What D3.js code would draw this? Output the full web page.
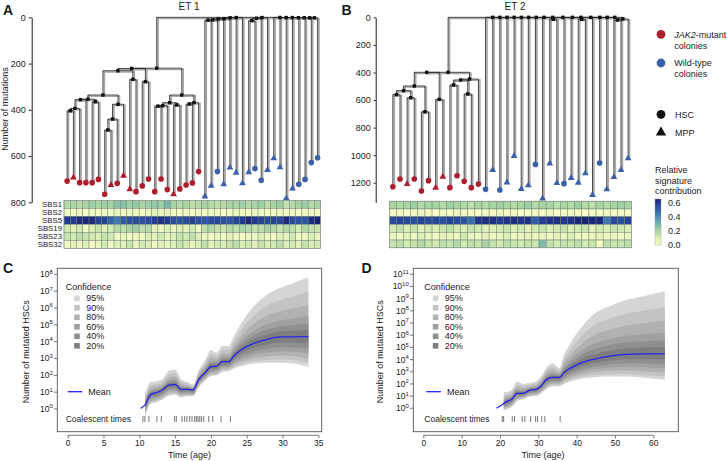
<!DOCTYPE html>
<html><head><meta charset="utf-8">
<script src="https://cdn.jsdelivr.net/npm/d3@7"></script>
<style>
body{margin:0;background:#fff}
svg{display:block}
text{font-family:"Liberation Sans",Arial,Helvetica,sans-serif;fill:#1a1a1a}
</style>
</head><body>
<svg id="chart" width="727" height="461"></svg>
<script>
// ===================== DATA =====================
// --- ET1 phylogeny: leaves left to right (J = JAK2-mutant, W = wild-type; H = HSC, M = MPP)
const et1Group = "JJJJJJJJJJJJJJJJJJJJJJWWWWWWWWWWWWWWWWWWW".split("");
const et1Type  = "HMHHHHHMHMMHHHHHHMHHHHMMHMMMMMHHMMMMMHHHH".split("");
const et1Depth = [708,693,715,715,715,701,765,725,718,685,744,754,729,699,754,699,745,765,742,725,716,667,
                  775,729,667,722,650,672,718,670,654,705,660,610,649,783,740,722,701,628,607];
// topology: [node depth (mutations), ...children]; a number = leaf index
const et1Tree = [0,
  [220,
    [221,
      [231,
        [336,
          [354, [356, [394, [404, 0, 1], 2], 3], [365, 4, 5]],
          [376, [440, [487, 6, 7], 8], 9]],
        [268, 10, 11]],
      [278, 12, 13]],
    [336,
      [369, [382, [384, 14, 15], 16], [379, 17, 18]],
      [369, [375, 19, 20], 21]]],
  [1, [2, [6, [7, [11, [12, 22, 23], 24], 25], 26], 27], 28],
  [1, [4, [14, 29, 30], 31], 32],
  [0.5, 33, [1, 34, [1, 35, [1.5, 36, [1.5, 37, [2, 38, [2, 39, 40]]]]]]]
];

// --- ET2 phylogeny
const et2Group = "JJJJJJJJJJJJJWWWWWWWWWWWWWWWWWWWWW".split("");
const et2Type  = "HHMHHHMMHHHHHHMHMMMMHMMMHMMMMHMMMM".split("");
const et2Depth = [1229,1173,1210,1173,1260,1185,1236,1156,1236,1149,1190,1236,1210,
                  1248,1108,1253,1198,1006,1246,1219,1067,1314,1060,1203,1207,1166,1200,1132,1289,1057,1248,1159,1108,1023];
const et2Tree = [0,
  [399,
    [399,
      [498, [532, [561, 0, 1], [583, 2, 3]], [685, 4, 5]],
      [595, 6, 7]],
    [448, [455, [491, 8, 9], [556, 10, 11]], 12]],
  [0, 13, [0, 14, [0, 15, [0, 16, [0, 17, [0, 18, [0, 19, [0, 20, [0, 21,
    [0, [14, 22, 23], [0, 24, [0, 25, [0, [14, 26, 27], [0, 28, [0, 29, [0, 30,
      [12, [19, 31, 32], 33]]]]]]]]]]]]]]]]]
];

// --- relative signature contributions
const sigNames = ["SBS1","SBS2","SBS5","SBS19","SBS23","SBS32"];
const et1SBS1  = [0.18,0.2,0.18,0.2,0.22,0.2,0.22,0.2,0.26,0.27,0.22,0.24,0.2,0.22,0.24,0.22,0.3,0.2,0.18,0.2,0.16,0.18,0.2,0.18,0.16,0.18,0.2,0.2,0.22,0.18,0.2,0.22,0.17,0.2,0.22,0.15,0.18,0.2,0.22,0.18,0.2];
const et1SBS2  = [0.04,0.03,0.05,0.02,0.04,0.03,0.05,0.04,0.06,0.03,0.05,0.04,0.03,0.06,0.08,0.07,0.08,0.04,0.03,0.05,0.02,0.04,0.03,0.05,0.04,0.02,0.03,0.05,0.04,0.03,0.06,0.04,0.02,0.03,0.05,0.04,0.03,0.02,0.04,0.05,0.03];
const et1SBS5  = [0.6,0.6,0.64,0.65,0.64,0.58,0.58,0.5,0.45,0.52,0.55,0.56,0.55,0.57,0.6,0.62,0.6,0.55,0.54,0.56,0.58,0.55,0.54,0.56,0.57,0.55,0.53,0.58,0.6,0.65,0.6,0.58,0.56,0.58,0.57,0.65,0.56,0.55,0.54,0.64,0.66];
const et1SBS19 = [0.12,0.08,0.12,0.04,0.1,0.14,0.08,0.12,0.18,0.16,0.2,0.22,0.16,0.18,0.08,0.05,0.1,0.06,0.1,0.08,0.12,0.04,0.16,0.18,0.15,0.14,0.18,0.16,0.2,0.18,0.15,0.16,0.2,0.18,0.14,0.18,0.16,0.12,0.18,0.15,0.14];
const et1SBS23 = [0.14,0.12,0.16,0.14,0.12,0.1,0.14,0.12,0.04,0.06,0.03,0.05,0.04,0.1,0.08,0.12,0.06,0.1,0.14,0.12,0.16,0.1,0.05,0.03,0.06,0.04,0.08,0.05,0.03,0.06,0.04,0.1,0.05,0.03,0.08,0.06,0.12,0.05,0.04,0.1,0.06];
const et1SBS32 = [0.04,0.08,0.05,0.1,0.03,0.06,0.12,0.05,0.1,0.08,0.14,0.06,0.12,0.1,0.04,0.08,0.06,0.1,0.14,0.12,0.06,0.1,0.15,0.08,0.12,0.1,0.14,0.16,0.1,0.12,0.08,0.14,0.1,0.12,0.16,0.1,0.12,0.08,0.14,0.1,0.12];
const et2SBS1  = [0.2,0.18,0.2,0.22,0.18,0.2,0.2,0.18,0.22,0.2,0.18,0.16,0.2,0.18,0.2,0.22,0.2,0.18,0.2,0.22,0.18,0.2,0.2,0.16,0.2,0.18,0.22,0.18,0.16,0.2,0.18,0.2,0.22,0.2];
const et2SBS2  = [0.03,0.04,0.02,0.03,0.05,0.03,0.02,0.04,0.03,0.05,0.04,0.03,0.02,0.04,0.03,0.05,0.03,0.04,0.02,0.03,0.04,0.03,0.05,0.02,0.03,0.04,0.03,0.02,0.04,0.03,0.05,0.03,0.04,0.03];
const et2SBS5  = [0.56,0.58,0.57,0.55,0.58,0.56,0.57,0.55,0.58,0.56,0.54,0.48,0.62,0.63,0.62,0.6,0.62,0.63,0.61,0.62,0.52,0.6,0.62,0.63,0.61,0.62,0.65,0.66,0.65,0.64,0.45,0.56,0.55,0.58];
const et2SBS19 = [0.12,0.15,0.1,0.14,0.08,0.12,0.1,0.14,0.16,0.12,0.1,0.14,0.12,0.08,0.1,0.12,0.14,0.1,0.12,0.08,0.12,0.14,0.1,0.12,0.15,0.1,0.12,0.14,0.08,0.12,0.1,0.14,0.12,0.1];
const et2SBS23 = [0.06,0.04,0.08,0.05,0.1,0.06,0.04,0.08,0.06,0.05,0.12,0.06,0.04,0.08,0.05,0.06,0.1,0.04,0.06,0.08,0.05,0.06,0.04,0.08,0.06,0.1,0.05,0.04,0.06,0.08,0.05,0.06,0.04,0.06];
const et2SBS32 = [0.14,0.16,0.12,0.15,0.18,0.14,0.12,0.16,0.14,0.18,0.12,0.16,0.14,0.2,0.15,0.12,0.16,0.14,0.12,0.15,0.14,0.28,0.16,0.12,0.15,0.14,0.16,0.12,0.14,0.03,0.16,0.14,0.15,0.16];
const sigTicks = [0.0, 0.2, 0.4, 0.6];
const et1YTicks = [0,200,400,600,800];
const et2YTicks = [0,200,400,600,800,1000,1200];

// --- clone size trajectories (log10 of number of mutated HSCs)
const cTime  = [10.2,10.8,11.6,12.4,13.2,14.2,15.0,15.8,16.7,17.5,18.3,19.2,20.0,20.8,21.6,22.5,23.2,24.4,26.0,27.9,29.7,31.6,33.6];
const cMean  = [0.04,0.24,0.87,0.97,1.13,1.43,1.46,1.17,1.17,1.13,1.76,2.16,2.51,2.55,2.81,2.81,3.15,3.56,3.9,4.14,4.28,4.29,4.3];
const cLo95  = [null,-0.45,0.3,0.4,0.55,0.8,0.85,0.7,0.75,0.75,1.3,1.7,1.95,2.0,2.2,2.25,2.4,2.55,2.7,2.75,2.75,2.7,2.5];
const cHi95  = [null,0.9,1.6,1.65,1.75,2.3,2.35,1.8,1.6,1.45,2.3,2.9,3.5,3.35,3.75,3.75,4.3,5.2,6.1,6.8,7.2,7.5,7.85];
const cCoal  = [10.5,10.78,11.34,12.46,13.07,14.93,15.17,15.96,16.34,16.66,17.04,17.36,17.73,17.97,18.2,18.44,18.67,19.0,19.7,20.26,21.42,22.73];
const dTime  = [19.1,21.0,21.75,23.05,24.5,26.1,27.8,29.4,30.7,32.2,33.75,35.5,36.7,38.3,40.9,44.4,48.7,53.1,57.4,63.0];
const dMean  = [0.0,0.4,0.55,0.74,1.23,1.23,1.5,1.56,1.83,2.38,2.54,2.54,2.93,3.28,3.69,4.02,4.29,4.43,4.46,4.46];
const dLo95  = [null,-0.2,-0.1,0.1,0.6,0.75,0.95,1.0,1.2,1.6,1.8,1.8,2.0,2.2,2.4,2.55,2.6,2.6,2.5,2.35];
const dHi95  = [null,1.3,1.35,1.5,2.2,2.0,2.1,2.2,2.6,3.4,3.7,3.3,4.4,5.3,6.5,7.7,8.4,8.9,9.2,9.6];
const dCoal  = [20.6,20.96,23.2,23.8,25.8,26.5,28.0,29.3,29.8,30.9,31.7,35.7];
const confLevels    = ["95%","90%","80%","60%","40%","20%"];
const confUpperFrac = [1, 0.75, 0.53, 0.34, 0.22, 0.11];   // share of upper 95% half-width
const confLowerFrac = [1, 0.88, 0.72, 0.56, 0.40, 0.22];   // share of lower 95% half-width
const cXTicks = [0,5,10,15,20,25,30,35];
const dXTicks = [0,10,20,30,40,50,60];
const cYTicks = [0,1,2,3,4,5,6,7,8];
const dYTicks = [0,1,2,3,4,5,6,7,8,9,10,11];

// ===================== STYLE =====================
const RED = "#ad1d2d", BLUE = "#3a60a8";
const confFill = ["#d5d5d5","#c3c3c3","#b1b1b1","#a0a0a0","#8f8f8f","#7e7e7e"];
const sigColor = d3.scaleLinear()
  .domain([0,0.1,0.2,0.3,0.4,0.5,0.6,0.66])
  .range(["#ffffcc","#dcefb6","#a9d5a5","#78b7ab","#4c8cb8","#3463aa","#243b93","#1b2576"])
  .clamp(true);

const svg = d3.select("#chart");
const defs = svg.append("defs");

function txt(g, x, y, s, size, anchor, weight){
  return g.append("text").attr("x",x).attr("y",y).attr("font-size",size)
    .attr("text-anchor",anchor||"start").attr("font-weight",weight||"normal").text(s);
}

// ===================== TREES =====================
function buildTree(spec){
  return typeof spec === "number" ? {leaf: spec} : {depth: spec[0], children: spec.slice(1).map(buildTree)};
}
function drawTree(spec, depths, groups, types, xBand, y){
  const g = svg.append("g");
  const root = buildTree(spec);
  const half = xBand.bandwidth()/2;
  const internals = [];
  (function lay(n){
    if (n.leaf !== undefined){ n.x = xBand(n.leaf) + half; n.y = y(depths[n.leaf]); return; }
    n.children.forEach(lay);
    n.x = (n.children[0].x + n.children[n.children.length-1].x)/2;
    n.y = y(n.depth);
    internals.push(n);
  })(root);
  const hs = [], vs = [], leaves = [];
  internals.forEach(n=>{
    const f = n.children[0], l = n.children[n.children.length-1];
    hs.push({x1:f.x, x2:l.x, y:n.y});
    n.children.forEach(c=>{ vs.push({x:c.x, y1:n.y, y2:c.y}); if (c.leaf!==undefined) leaves.push(c); });
  });
  g.selectAll(".gv").data(vs).join("line").attr("x1",d=>d.x+1.4).attr("x2",d=>d.x+1.4)
    .attr("y1",d=>d.y1).attr("y2",d=>d.y2).attr("stroke","#a8a8a8").attr("stroke-width",1.7);
  g.selectAll(".gh").data(hs).join("line").attr("x1",d=>d.x1).attr("x2",d=>d.x2+1.4)
    .attr("y1",d=>d.y+1.2).attr("y2",d=>d.y+1.2).attr("stroke","#a8a8a8").attr("stroke-width",1.5);
  g.selectAll(".bv").data(vs).join("line").attr("x1",d=>d.x).attr("x2",d=>d.x)
    .attr("y1",d=>d.y1).attr("y2",d=>d.y2).attr("stroke","#1a1a1a").attr("stroke-width",0.8);
  g.selectAll(".bh").data(hs).join("line").attr("x1",d=>d.x1).attr("x2",d=>d.x2)
    .attr("y1",d=>d.y).attr("y2",d=>d.y).attr("stroke","#1a1a1a").attr("stroke-width",0.8);
  g.selectAll(".nd").data(internals.filter(n=>n!==root)).join("rect")
    .attr("x",d=>d.x-1.7).attr("y",d=>d.y-1.7).attr("width",3.4).attr("height",3.4).attr("fill","#111");
  g.selectAll(".lf").data(leaves).join("path")
    .attr("transform",d=>`translate(${d.x},${d.y})`)
    .attr("d",d=> types[d.leaf]==="H" ? d3.symbol(d3.symbolCircle, 25)() : d3.symbol(d3.symbolTriangle, 20)())
    .attr("fill",d=> groups[d.leaf]==="J" ? RED : BLUE);
}

function drawHeat(rows, xBand, top, bottom, withLabels){
  const g = svg.append("g");
  const yb = d3.scaleBand().domain(sigNames).range([top,bottom]);
  rows.forEach((vals,r)=>{
    g.selectAll(null).data(vals).join("rect")
      .attr("x",(v,i)=>xBand(i)).attr("y",yb(sigNames[r]))
      .attr("width",xBand.bandwidth()).attr("height",yb.bandwidth())
      .attr("fill",v=>sigColor(v)).attr("stroke","#6d7f6f").attr("stroke-width",0.45);
    if (withLabels) txt(g, xBand.range()[0]-2, yb(sigNames[r])+yb.bandwidth()/2+2.8, sigNames[r], 7.8, "end");
  });
  g.append("rect").attr("x",xBand.range()[0]).attr("y",top)
    .attr("width",xBand.range()[1]-xBand.range()[0]).attr("height",bottom-top)
    .attr("fill","none").attr("stroke","#8a9a8a").attr("stroke-width",0.6);
}

function styleAxis(a){
  a.selectAll("text").attr("font-size",9).attr("font-family",null).attr("fill","#1a1a1a");
  a.selectAll("path,line").attr("stroke","#1a1a1a").attr("stroke-width",1);
}

// Panel A
const xA = d3.scaleBand().domain(d3.range(et1Depth.length)).range([64,320.7]);
const yA = d3.scaleLinear().domain([0,800]).range([17.33,202.33]);
drawTree(et1Tree, et1Depth, et1Group, et1Type, xA, yA);
svg.append("g").attr("transform","translate(31.7,0)")
  .call(d3.axisLeft(yA).tickValues(et1YTicks).tickFormat(d3.format("d")).tickSize(3).tickPadding(3).tickSizeOuter(0))
  .call(styleAxis);
svg.append("text").attr("transform","translate(8,109) rotate(-90)").attr("text-anchor","middle")
  .attr("font-size",9).text("Number of mutations");
txt(svg, 189, 9.5, "ET 1", 10, "middle");
drawHeat([et1SBS1,et1SBS2,et1SBS5,et1SBS19,et1SBS23,et1SBS32], xA, 200.5, 248.3, true);

// Panel B
const xB = d3.scaleBand().domain(d3.range(et2Depth.length)).range([389.3,631.7]);
const yB = d3.scaleLinear().domain([0,1342]).range([17.33,202.3]);
drawTree(et2Tree, et2Depth, et2Group, et2Type, xB, yB);
svg.append("g").attr("transform","translate(375.7,0)")
  .call(d3.axisLeft(yB).tickValues(et2YTicks).tickFormat(d3.format("d")).tickSize(2).tickPadding(3).tickSizeOuter(0))
  .call(styleAxis);
txt(svg, 515, 9.5, "ET 2", 10, "middle");
drawHeat([et2SBS1,et2SBS2,et2SBS5,et2SBS19,et2SBS23,et2SBS32], xB, 201.2, 247.8, false);

// Legend (right)
const lg = svg.append("g");
lg.append("circle").attr("cx",661).attr("cy",34.3).attr("r",4.4).attr("fill",RED);
const t1 = txt(lg, 674.3, 37.5, "", 9);
t1.append("tspan").attr("font-style","italic").text("JAK2");
t1.append("tspan").text("-mutant");
txt(lg, 674.3, 48.8, "colonies", 9);
lg.append("circle").attr("cx",661).attr("cy",63).attr("r",4.4).attr("fill",BLUE);
txt(lg, 674.3, 66, "Wild-type", 9);
txt(lg, 674.3, 76.6, "colonies", 9);
lg.append("circle").attr("cx",661).attr("cy",114.3).attr("r",4.4).attr("fill","#111");
txt(lg, 675, 117.6, "HSC", 9);
lg.append("path").attr("transform","translate(661,132.5)").attr("d",d3.symbol(d3.symbolTriangle,46)()).attr("fill","#111");
txt(lg, 675, 136, "MPP", 9);
txt(lg, 655, 173.3, "Relative", 9);
txt(lg, 655, 183.8, "signature", 9);
txt(lg, 655, 194, "contribution", 9);
const cb = d3.scaleLinear().domain([0,0.66]).range([245,199]);
const grad = defs.append("linearGradient").attr("id","sg")
  .attr("x1",0).attr("x2",0).attr("y1",1).attr("y2",0);
sigColor.domain().forEach(v=> grad.append("stop").attr("offset",v/0.66).attr("stop-color",sigColor(v)));
lg.append("rect").attr("x",655).attr("y",cb(0.66)).attr("width",6).attr("height",cb(0)-cb(0.66))
  .attr("fill","url(#sg)").attr("stroke","#999").attr("stroke-width",0.4);
sigTicks.forEach(v=> txt(lg, 668, cb(v)+3, v.toFixed(1), 9));

// ===================== GROWTH PANELS =====================
function drawGrowth(o){
  const g = svg.append("g");
  const x = d3.scaleLinear().domain(o.xDom).range([o.left,o.right]);
  const y = d3.scaleLog().domain(o.yDom.map(v=>10**v)).range([o.bottom,o.top]);
  const id = "clip"+o.key;
  defs.append("clipPath").attr("id",id).append("rect")
    .attr("x",o.left).attr("y",o.top).attr("width",o.right-o.left).attr("height",o.bottom-o.top);
  const pg = g.append("g").attr("clip-path",`url(#${id})`);
  const bandIdx = d3.range(o.time.length).filter(i=>o.lo[i]!==null);
  confLevels.forEach((lev,k)=>{
    const area = d3.area().curve(d3.curveMonotoneX)
      .x(i=>x(o.time[i]))
      .y0(i=>y(10**(o.mean[i]-confLowerFrac[k]*(o.mean[i]-o.lo[i]))))
      .y1(i=>y(10**(o.mean[i]+confUpperFrac[k]*(o.hi[i]-o.mean[i]))));
    pg.append("path").attr("d",area(bandIdx)).attr("fill",confFill[k]);
  });
  const line = d3.line().curve(d3.curveMonotoneX).x(i=>x(o.time[i])).y(i=>y(10**o.mean[i]));
  pg.append("path").attr("d",line(d3.range(o.time.length))).attr("fill","none")
    .attr("stroke","#2424f0").attr("stroke-width",1.3);
  g.append("rect").attr("x",o.left).attr("y",o.top).attr("width",o.right-o.left).attr("height",o.bottom-o.top)
    .attr("fill","none").attr("stroke","#555").attr("stroke-width",0.9);
  o.yTicks.forEach(k=>{
    const yy = y(10**k);
    g.append("line").attr("x1",o.left-3.5).attr("x2",o.left).attr("y1",yy).attr("y2",yy).attr("stroke","#555").attr("stroke-width",0.8);
    const t = g.append("text").attr("x",o.left-4.5).attr("y",yy+3).attr("text-anchor","end").attr("font-size",8.5);
    t.append("tspan").text("10");
    t.append("tspan").attr("font-size",6).attr("dy",-3.6).text(k);
  });
  const ax = g.append("g").attr("transform",`translate(0,${o.axisY})`)
    .call(d3.axisBottom(x).tickValues(o.xTicks).tickSize(3).tickPadding(2).tickSizeOuter(0));
  ax.select(".domain").attr("d",`M${x(o.xTicks[0])},0H${x(o.xTicks[o.xTicks.length-1])}`);
  ax.selectAll("path,line").attr("stroke","#555").attr("stroke-width",0.8);
  ax.selectAll("text").attr("font-size",8.5).attr("font-family",null).attr("fill","#1a1a1a");
  txt(g, o.xLabelX, 457.5, "Time (age)", 9, "middle");
  g.append("text").attr("transform",`translate(${o.yLabelX},351.7) rotate(-90)`).attr("text-anchor","middle")
    .attr("font-size",9).text("Number of mutated HSCs");
  txt(g, o.legX, 290, "Confidence", 9);
  confLevels.forEach((lev,k)=>{
    const cy = 298.3 + k*9.5;
    g.append("rect").attr("x",o.legX+8.5).attr("y",cy-2.8).attr("width",5.6).attr("height",5.6).attr("fill",confFill[k]);
    txt(g, o.legX+20.5, cy+3.1, lev, 9);
  });
  g.append("line").attr("x1",o.legX+2).attr("x2",o.legX+16.6).attr("y1",391.7).attr("y2",391.7)
    .attr("stroke","#2424f0").attr("stroke-width",1.3);
  txt(g, o.legX+22.6, 394.9, "Mean", 9);
  txt(g, o.legX, 422.3, "Coalescent times", 8.5);
  g.selectAll(".ct").data(o.coal).join("line").attr("x1",d=>x(d)).attr("x2",d=>x(d))
    .attr("y1",416).attr("y2",422).attr("stroke","#555").attr("stroke-width",0.8);
}

drawGrowth({key:"C", left:57.3, right:321.7, top:268.3, bottom:431.7, axisY:435.3,
  xDom:[-1.45,35.47], yDom:[-1.35,8.36], xTicks:cXTicks, yTicks:cYTicks,
  time:cTime, mean:cMean, lo:cLo95, hi:cHi95, coal:cCoal,
  legX:65.7, xLabelX:189.5, yLabelX:29});
drawGrowth({key:"D", left:413.3, right:678.3, top:268.3, bottom:431.7, axisY:435.3,
  xDom:[-2.61,66.52], yDom:[-1.92,11.49], xTicks:dXTicks, yTicks:dYTicks,
  time:dTime, mean:dMean, lo:dLo95, hi:dHi95, coal:dCoal,
  legX:424.3, xLabelX:543, yLabelX:383});

txt(svg, 3, 15, "A", 14, "start", "bold");
txt(svg, 341.5, 15, "B", 14, "start", "bold");
txt(svg, 3, 273, "C", 14, "start", "bold");
txt(svg, 361.5, 273, "D", 14, "start", "bold");
</script>
</body></html>
